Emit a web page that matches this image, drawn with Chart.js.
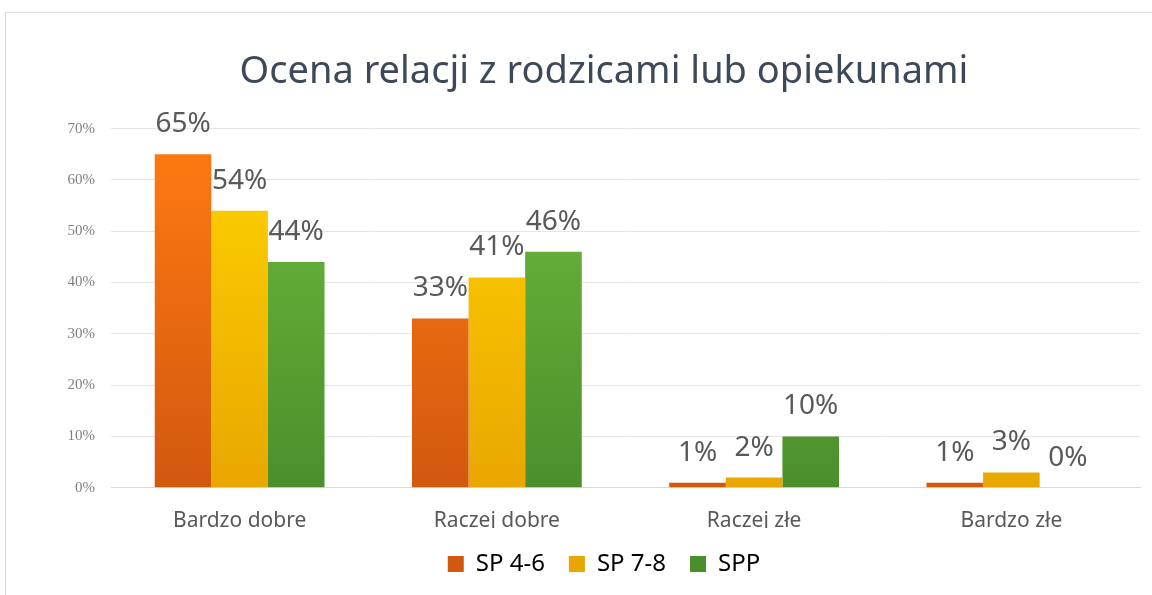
<!DOCTYPE html>
<html>
<head>
<meta charset="utf-8">
<script src="https://cdn.jsdelivr.net/npm/chart.js@4"></script>
<style>
    body { margin: 0; background: #fff; }
    #frame {
        position: absolute; left: 5px; top: 12px; width: 1147px; height: 583px;
        border-left: 1px solid #d9d9d9; border-top: 1px solid #d9d9d9;
    }
    #wrap { position: absolute; left: 0; top: 0; width: 1152px; height: 595px; }
</style>
</head>
<body>
<div id="frame"></div>
<div id="wrap"><canvas id="chart"></canvas></div>
<script>
const categories = ['Bardzo dobre', 'Raczej dobre', 'Raczej złe', 'Bardzo złe'];
const seriesNames = ['SP 4-6', 'SP 7-8', 'SPP'];
const sp46 = [65, 33, 1, 1];
const sp78 = [54, 41, 2, 3];
const spp = [44, 46, 10, 0];
const yTicks = [0, 10, 20, 30, 40, 50, 60, 70];

// top / bottom colours of the bar gradients
const colours = [
    ['#ff7b12', '#d2580f'],
    ['#ffd400', '#e9a600'],
    ['#6fbb3c', '#4b8f2c']
];

function gradient(ctx, pair) {
    const area = ctx.chart.chartArea;
    if (!area) return pair[0];
    const g = ctx.chart.ctx.createLinearGradient(0, area.top, 0, area.bottom);
    g.addColorStop(0, pair[0]);
    g.addColorStop(1, pair[1]);
    return g;
}

// values above the bars, like excel's data labels
const valueLabels = {
    id: 'valueLabels',
    afterDatasetsDraw(chart) {
        const ctx = chart.ctx;
        ctx.save();
        ctx.font = '28px "Noto Sans"';
        ctx.fillStyle = '#595959';
        ctx.textAlign = 'center';
        ctx.textBaseline = 'middle';
        chart.data.datasets.forEach((ds, i) => {
            chart.getDatasetMeta(i).data.forEach((bar, j) => {
                ctx.fillText(ds.data[j] + '%', bar.x, bar.y - 30);
            });
        });
        ctx.restore();
    }
};

const datasets = [sp46, sp78, spp].map((values, i) => ({
    label: seriesNames[i],
    data: values,
    backgroundColor: c => gradient(c, colours[i]),
    borderWidth: 0,
    categoryPercentage: 0.66,
    barPercentage: 1
}));

new Chart(document.getElementById('chart'), {
    type: 'bar',
    data: { labels: categories, datasets: datasets },
    plugins: [valueLabels],
    options: {
        responsive: true,
        maintainAspectRatio: false,
        animation: false,
        layout: { padding: { top: 49, left: 68, right: 12, bottom: 9 } },
        plugins: {
            title: {
                display: true,
                text: 'Ocena relacji z rodzicami lub opiekunami',
                color: '#3e4958',
                font: { family: '"Noto Sans"', size: 38, weight: 'normal' },
                padding: { top: 0, bottom: 34 }
            },
            legend: {
                position: 'bottom',
                labels: {
                    color: '#595959',
                    font: { family: '"Noto Sans"', size: 24 },
                    boxWidth: 16,
                    boxHeight: 16,
                    padding: 24,
                    generateLabels: chart => chart.data.datasets.map((ds, i) => ({
                        text: ds.label,
                        fillStyle: colours[i][1],
                        strokeStyle: colours[i][1],
                        lineWidth: 0,
                        datasetIndex: i
                    }))
                }
            },
            tooltip: { enabled: false }
        },
        scales: {
            x: {
                grid: { display: false },
                border: { color: '#d9d9d9' },
                afterFit: axis => { axis.height -= 19; },
                ticks: { color: '#595959', font: { family: '"Noto Sans"', size: 21 }, padding: 13 }
            },
            y: {
                min: 0,
                max: 70,
                afterBuildTicks: axis => { axis.ticks = yTicks.map(v => ({ value: v })); },
                afterFit: axis => { axis.width = 43; },
                grid: { color: '#e6e6e6', drawTicks: false },
                border: { display: false },
                ticks: {
                    color: '#7f7f7f',
                    font: { family: '"Liberation Serif"', size: 15 },
                    padding: 16,
                    callback: v => v + '%'
                }
            }
        }
    }
});
</script>
</body>
</html>
